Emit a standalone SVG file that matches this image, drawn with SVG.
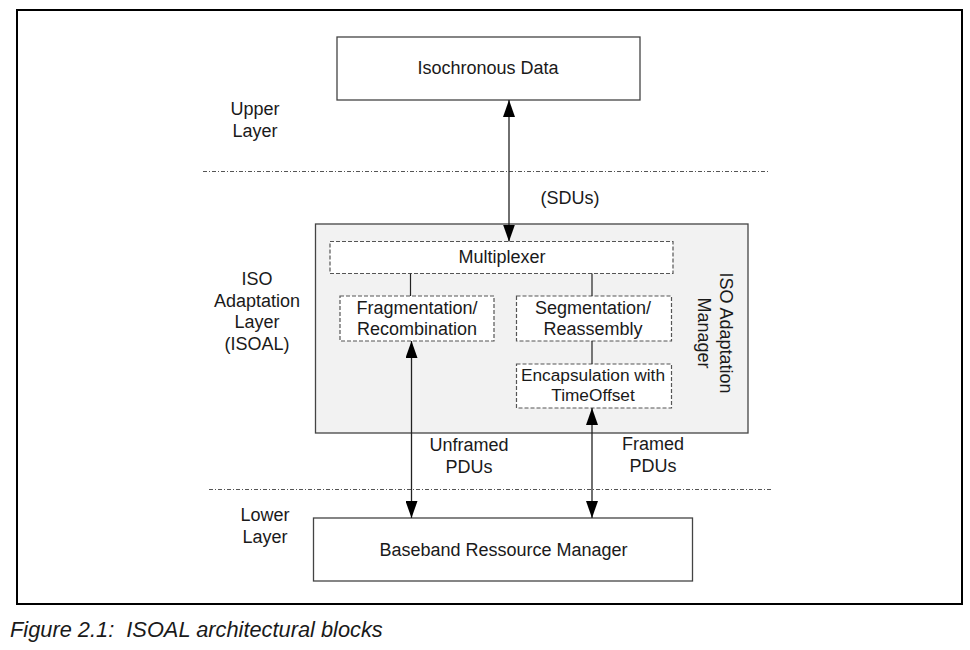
<svg xmlns="http://www.w3.org/2000/svg" width="970" height="650" viewBox="0 0 970 650">
<defs>
<style>
text{font-family:"Liberation Sans",Arial,sans-serif;font-size:18px;fill:#1a1a1a;}
.c{text-anchor:middle;}
.box{fill:#fff;stroke:#444;stroke-width:1.3;}
.dbox{fill:#fff;stroke:#555;stroke-width:1.2;stroke-dasharray:4,2;}
.sep{stroke:#555;stroke-width:1;stroke-dasharray:4,2,1,2;fill:none;}
.ln{stroke:#222;stroke-width:1.2;fill:none;}
.arr{stroke:#222;stroke-width:1.3;fill:none;marker-start:url(#ah);marker-end:url(#ah);}
</style>
<marker id="ah" markerUnits="userSpaceOnUse" markerWidth="17" markerHeight="12" refX="17" refY="6" orient="auto-start-reverse">
<path d="M0,0 L17,6 L0,12 z" fill="#000"/>
</marker>
</defs>
<rect x="0" y="0" width="970" height="650" fill="#fff"/>
<rect x="17" y="10" width="945" height="594" fill="none" stroke="#000" stroke-width="2"/>

<g id="layer-labels">
<text class="c" x="255" y="115">Upper</text>
<text class="c" x="255" y="137">Layer</text>
<text class="c" x="257" y="285">ISO</text>
<text class="c" x="257" y="306.5">Adaptation</text>
<text class="c" x="257" y="328">Layer</text>
<text class="c" x="257" y="349.5">(ISOAL)</text>
<text class="c" x="265" y="521">Lower</text>
<text class="c" x="265" y="543">Layer</text>
</g>

<g id="separators">
<line class="sep" x1="203" y1="171.5" x2="768" y2="171.5"/>
<line class="sep" x1="209" y1="489.5" x2="773" y2="489.5"/>
</g>

<g id="isochronous-data">
<rect class="box" x="337" y="37" width="303" height="63"/>
<text class="c" x="488" y="74">Isochronous Data</text>
</g>

<g id="isoal">
<rect x="315.5" y="224" width="432.5" height="209" fill="#f2f2f2" stroke="#444" stroke-width="1.3"/>
<g transform="translate(720,333) rotate(90)">
<text class="c" x="0" y="0">ISO Adaptation</text>
<text class="c" x="0" y="22">Manager</text>
</g>
</g>

<g id="multiplexer">
<rect class="dbox" x="330" y="241.5" width="343" height="32"/>
<text class="c" x="502" y="263">Multiplexer</text>
</g>

<g id="fragmentation">
<rect class="dbox" x="340" y="296" width="154" height="45"/>
<text class="c" x="417" y="314">Fragmentation/</text>
<text class="c" x="417" y="335">Recombination</text>
</g>

<g id="segmentation">
<rect class="dbox" x="516.5" y="296" width="155" height="45"/>
<text class="c" x="593" y="314">Segmentation/</text>
<text class="c" x="593" y="335">Reassembly</text>
</g>

<g id="encapsulation">
<rect class="dbox" x="516.5" y="364" width="155" height="44"/>
<text class="c" x="593" y="381" style="font-size:17.3px">Encapsulation with</text>
<text class="c" x="593" y="401" style="font-size:17.3px">TimeOffset</text>
</g>

<g id="baseband">
<rect class="box" x="313.5" y="518" width="379" height="63"/>
<text class="c" x="503.5" y="556">Baseband Ressource Manager</text>
</g>

<g id="connectors">
<line class="arr" x1="509" y1="100" x2="509" y2="241.5"/>
<line class="ln" x1="410.5" y1="273.5" x2="410.5" y2="296"/>
<line class="ln" x1="592" y1="273.5" x2="592" y2="296"/>
<line class="ln" x1="592" y1="341" x2="592" y2="364"/>
<line class="arr" x1="411.5" y1="341" x2="411.5" y2="518"/>
<line class="arr" x1="592" y1="408" x2="592" y2="518"/>
<text class="c" x="570" y="204">(SDUs)</text>
<text class="c" x="469" y="451">Unframed</text>
<text class="c" x="469" y="473">PDUs</text>
<text class="c" x="653" y="450">Framed</text>
<text class="c" x="653" y="472">PDUs</text>
</g>

<text x="10" y="637" xml:space="preserve" style="font-style:italic;font-size:21.8px;white-space:pre">Figure 2.1:  ISOAL architectural blocks</text>
</svg>
